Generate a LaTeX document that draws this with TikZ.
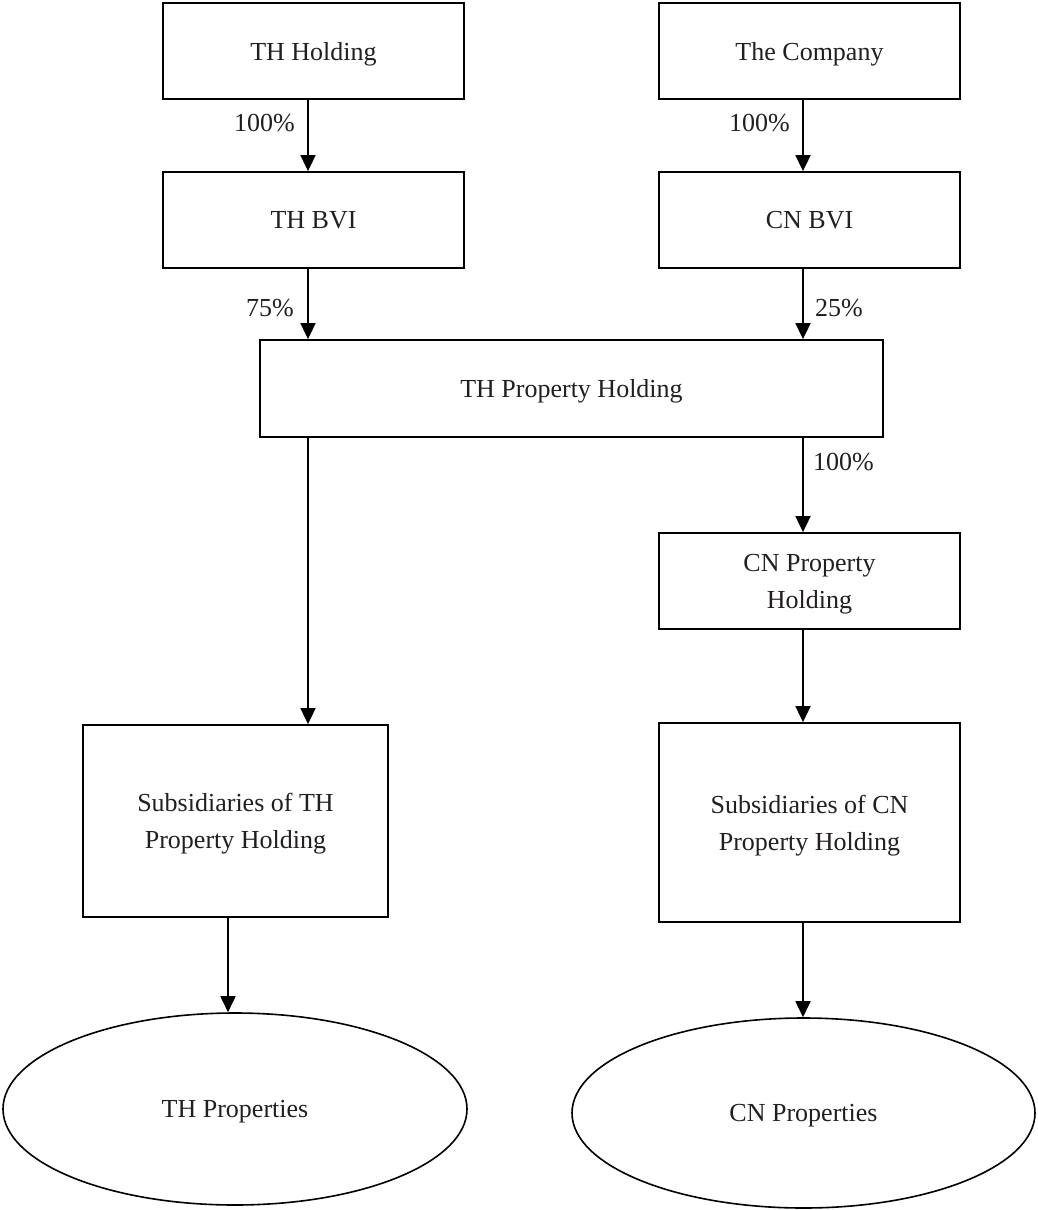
\documentclass[tikz,border=0pt]{standalone}
\usepackage{fontspec}
\setmainfont{Liberation Serif}
\usetikzlibrary{arrows.meta,shapes.geometric}
\definecolor{txt}{RGB}{35,31,32}
\begin{document}
\begin{tikzpicture}[x=1pt,y=-1pt,
  every node/.style={font=\fontsize{26}{37}\selectfont, text=txt},
  box/.style={draw=black, line width=1.8pt, rectangle, inner sep=0pt, align=center, text depth=0pt},
  oval/.style={draw=black, line width=1.6pt, ellipse, inner sep=0pt, align=center, text depth=0pt},
  arr/.style={draw=black, line width=1.8pt, -{Triangle[length=16pt,width=15pt]}},
  pct/.style={inner sep=0pt}]
\useasboundingbox (0,0) rectangle (1038,1210);
\fill[white] (0,0) rectangle (1038,1210);

% columns for connectors
\coordinate (colA) at (308,0);
\coordinate (colB) at (803,0);
\coordinate (colC) at (228,0);

% boxes
\node[box, minimum width=301pt, minimum height=96pt] (thh) at (313.5,51) {TH Holding};
\node[box, minimum width=301pt, minimum height=96pt] (comp) at (809.5,51) {The Company};
\node[box, minimum width=301pt, minimum height=96pt] (thbvi) at (313.5,220) {TH BVI};
\node[box, minimum width=301pt, minimum height=96pt] (cnbvi) at (809.5,220) {CN BVI};
\node[box, minimum width=623pt, minimum height=97pt] (thp) at (571.5,388.5) {TH Property Holding};
\node[box, minimum width=301pt, minimum height=96pt] (cnp) at (809.5,581) {CN Property\\Holding};
\node[box, minimum width=305pt, minimum height=192pt] (subth) at (235.5,821) {Subsidiaries of TH\\Property Holding};
\node[box, minimum width=301pt, minimum height=199pt] (subcn) at (809.5,822.5) {Subsidiaries of CN\\Property Holding};
\node[oval, minimum width=464pt, minimum height=192pt] (thpr) at (235,1109) {TH Properties};
\node[oval, minimum width=463pt, minimum height=190pt] (cnpr) at (803.5,1113) {CN Properties};

% connectors
\draw[arr] (thh.south -| colA) -- (thbvi.north -| colA);
\draw[arr] (comp.south -| colB) -- (cnbvi.north -| colB);
\draw[arr] (thbvi.south -| colA) -- (thp.north -| colA);
\draw[arr] (cnbvi.south -| colB) -- (thp.north -| colB);
\draw[arr] (thp.south -| colB) -- (cnp.north -| colB);
\draw[arr] (thp.south -| colA) -- (subth.north -| colA);
\draw[arr] (cnp.south -| colB) -- (subcn.north -| colB);
\draw[arr] (subth.south -| colC) -- (thpr.north -| colC);
\draw[arr] (subcn.south -| colB) -- (cnpr.north -| colB);

% labels
\node[pct, anchor=east] (l1) at (295,123) {100\%};
\node[pct, anchor=east] (l2) at (790,123) {100\%};
\node[pct, anchor=east] (l3) at (294,308) {75\%};
\node[pct, anchor=west] (l4) at (815,308) {25\%};
\node[pct, anchor=west] (l5) at (813,462) {100\%};
\end{tikzpicture}
\end{document}
